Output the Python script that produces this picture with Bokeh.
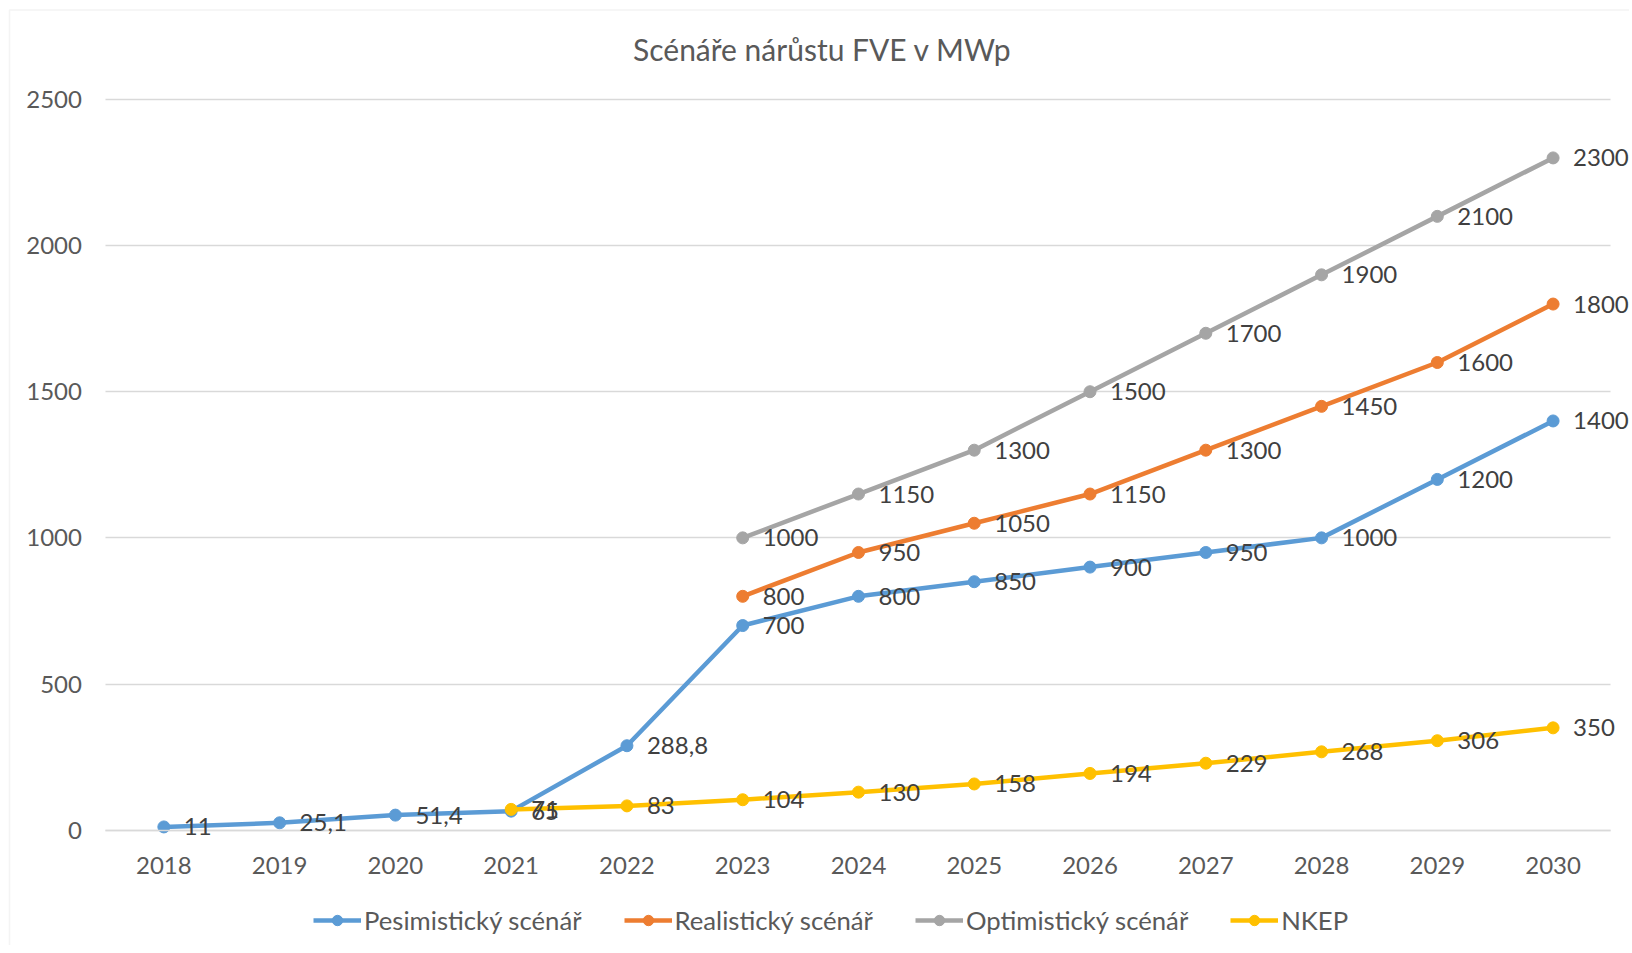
from bokeh.plotting import figure
from bokeh.models import ColumnDataSource, Legend, LegendItem, FixedTicker, LabelSet, Label, BoxAnnotation
from bokeh.core.properties import value
from bokeh.embed import file_html
from bokeh.resources import INLINE

title = "Scénáře nárůstu FVE v MWp"
years = list(range(2018, 2031))
y_ticks = [0, 500, 1000, 1500, 2000, 2500]
pes_years = years
pes_vals = [11, 25.1, 51.4, 65, 288.8, 700, 800, 850, 900, 950, 1000, 1200, 1400]
real_years = list(range(2023, 2031))
real_vals = [800, 950, 1050, 1150, 1300, 1450, 1600, 1800]
opt_years = list(range(2023, 2031))
opt_vals = [1000, 1150, 1300, 1500, 1700, 1900, 2100, 2300]
nkep_years = list(range(2021, 2031))
nkep_vals = [71, 83, 104, 130, 158, 194, 229, 268, 306, 350]

series = [
    ("Pesimistický scénář", pes_years, pes_vals, "#5B9BD5"),
    ("Realistický scénář", real_years, real_vals, "#ED7D31"),
    ("Optimistický scénář", opt_years, opt_vals, "#A5A5A5"),
    ("NKEP", nkep_years, nkep_vals, "#FFC000"),
]

FONT = "Lato"
TXT = "#595959"

# frame spans the whole canvas; value 2500 sits 99px from the top, 0 at 829.6px,
# category 2017.5 edge at 105.5px from the left
p = figure(frame_width=1629, frame_height=945, x_range=(2016.589, 2030.66),
           y_range=(-394.7, 2838.6), title_location=None,
           output_backend="svg", toolbar_location=None,
           min_border_left=0, min_border_right=0, min_border_top=0, min_border_bottom=0)

p.outline_line_color = None
p.xgrid.grid_line_color = None
p.ygrid.grid_line_color = "#D9D9D9"
p.ygrid.grid_line_width = 1.5
p.ygrid.cross_bounds = (2017.5, 2030.5)

p.xaxis.ticker = FixedTicker(ticks=years)
p.yaxis.ticker = FixedTicker(ticks=y_ticks)
for ax in (p.xaxis[0], p.yaxis[0]):
    ax.major_label_text_font = FONT
    ax.major_label_text_font_size = "24px"
    ax.major_label_text_color = TXT
    ax.major_tick_line_color = None
    ax.minor_tick_line_color = None
    ax.major_tick_out = 0
    ax.major_tick_in = 0
p.xaxis.fixed_location = 0
p.xaxis.axis_line_color = "#D9D9D9"
p.xaxis.axis_line_width = 1.5
p.xaxis.bounds = (2017.5, 2030.5)
p.yaxis.fixed_location = 2017.5
p.yaxis.axis_line_color = None
p.yaxis.bounds = (0, 2500)
p.xaxis.major_label_standoff = 27
p.yaxis.major_label_standoff = 24

# chart-area border (left and top edges visible)
p.add_layout(BoxAnnotation(left=9, right=1700, top=935.5, bottom=-50,
                           left_units="screen", right_units="screen",
                           top_units="screen", bottom_units="screen",
                           fill_alpha=0, line_color="#D9D9D9", line_width=1.5,
                           level="underlay"))

p.add_layout(Label(x=822, y=897, x_units="screen", y_units="screen", text=title,
                   text_font=FONT, text_font_size="30px", text_color=TXT,
                   text_align="center", text_baseline="middle"))

items = []
for name, xs, ys, col in series:
    src = ColumnDataSource(dict(x=xs, y=ys))
    r1 = p.line("x", "y", source=src, line_color=col, line_width=4.5)
    r2 = p.scatter("x", "y", source=src, size=12, fill_color=col, line_color=col)
    items.append(LegendItem(label=name, renderers=[r1, r2]))

for name, xs, ys, col in series:
    labels = [(f"{v:g}").replace(".", ",") for v in ys]
    src = ColumnDataSource(dict(x=xs, y=ys, lab=labels))
    ls = LabelSet(x="x", y="y", text="lab", source=src, x_offset=20, text_baseline="middle",
                  text_align="left", text_font=value(FONT), text_font_size=value("24px"),
                  text_color=value("#404040"))
    p.add_layout(ls)

leg = Legend(items=items, orientation="horizontal", location=(313, 10))
leg.label_text_font = FONT
leg.label_text_font_size = "25.7px"
leg.label_text_color = TXT
leg.glyph_width = 48
leg.glyph_height = 26
leg.label_standoff = 3
leg.spacing = 42
leg.border_line_color = None
leg.background_fill_alpha = 0
leg.padding = 0
leg.margin = 0
p.add_layout(leg, "center")

open("out.html", "w").write(file_html(p, INLINE))
